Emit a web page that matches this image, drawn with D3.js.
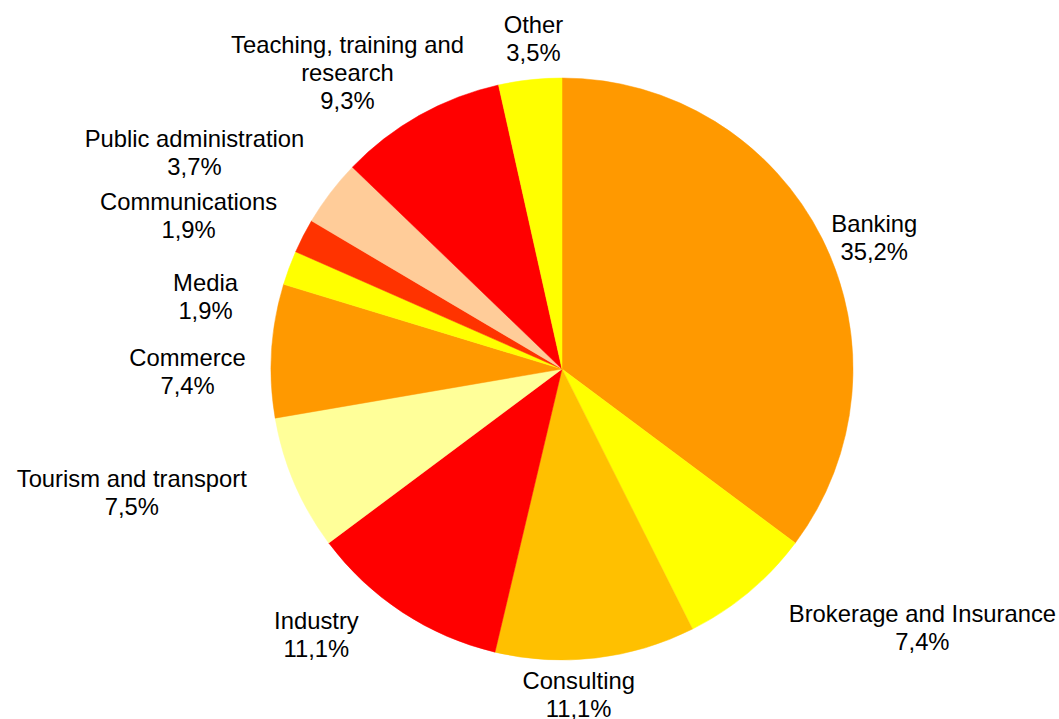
<!DOCTYPE html>
<html>
<head>
<meta charset="utf-8">
<script src="https://cdn.jsdelivr.net/npm/d3@7"></script>
<style>
  html, body { margin: 0; padding: 0; background: #fff; }
  svg text { font-family: Arial, "Liberation Sans", sans-serif; fill: #000; }
</style>
</head>
<body>
<svg id="chart" width="1059" height="719"></svg>
<script>
// sectors, clockwise from 12 o'clock
const categories = ["Banking", "Brokerage and Insurance", "Consulting", "Industry",
  "Tourism and transport", "Commerce", "Media", "Communications",
  "Public administration", "Teaching, training and research", "Other"];
const shares = [35.2, 7.4, 11.1, 11.1, 7.5, 7.4, 1.9, 1.9, 3.7, 9.3, 3.5];
const sliceColors = ["#FF9900", "#FFFF00", "#FFC000", "#FF0000", "#FFFF99", "#FF9900",
  "#FFFF00", "#FF3300", "#FFCC99", "#FF0000", "#FFFF00"];

// label text lines (Excel wraps the long one)
const labelLines = [["Banking"], ["Brokerage and Insurance"], ["Consulting"], ["Industry"],
  ["Tourism and transport"], ["Commerce"], ["Media"], ["Communications"],
  ["Public administration"], ["Teaching, training and", "research"], ["Other"]];

// hand moved labels, like in the original workbook
const labelNudge = [[3, 17], [80, 5], [-25, -3], [-56, -11], [-46, -7], [-14, 23],
  [-42, 43], [-25, -2], [-39, -16], [-9, 4], [8, -2]];

const width = 1059, height = 719;
const cx = 562, cy = 369, radius = 291;
const fontSize = 23.8, lineH = 28, gap = 12;

const fmt = v => d3.format(".1f")(v).replace(".", ",") + "%";

const svg = d3.select("#chart");
const g = svg.append("g").attr("transform", `translate(${cx},${cy})`);

const pie = d3.pie().sort(null).value(d => d.value);
const arcs = pie(categories.map((c, i) => ({ name: c, value: shares[i], i: i })));

const arc = d3.arc().innerRadius(0).outerRadius(radius);

g.selectAll("path.slice")
  .data(arcs).enter()
  .append("path")
    .attr("class", "slice")
    .attr("d", arc)
    .attr("fill", d => sliceColors[d.data.i])
    .attr("stroke", d => sliceColors[d.data.i])
    .attr("stroke-width", 0.5);

// labels: outside end, pushed out by half the box, then nudged
const labels = g.selectAll("g.label")
  .data(arcs).enter()
  .append("g")
    .attr("class", "label");

labels.each(function (d) {
  const el = d3.select(this);
  const lines = labelLines[d.data.i].concat([fmt(d.data.value)]);
  const t = el.append("text")
    .attr("text-anchor", "middle")
    .attr("font-size", fontSize);
  lines.forEach((l, k) => {
    t.append("tspan")
      .attr("x", 0)
      .attr("y", (k - (lines.length - 1) / 2) * lineH + fontSize * 0.716 / 2)
      .text(l);
  });

  const w = d3.max(t.selectAll("tspan").nodes(), n => n.getComputedTextLength());
  const h = lines.length * lineH;
  const a = (d.startAngle + d.endAngle) / 2;
  const s = Math.sin(a), c = -Math.cos(a);
  const px = (radius + gap) * s + (w / 2) * s + labelNudge[d.data.i][0];
  const py = (radius + gap) * c + (h / 2) * c + labelNudge[d.data.i][1];
  el.attr("transform", `translate(${px},${py})`);
});
</script>
</body>
</html>
